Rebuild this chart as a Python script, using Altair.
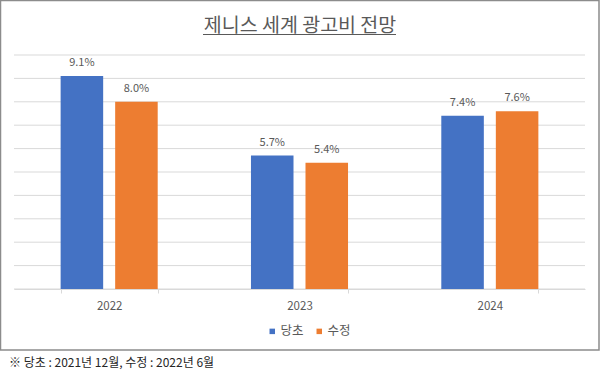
import altair as alt
import pandas as pd

years = ["2022", "2023", "2024"]
series = ["당초", "수정"]
original = [9.1, 5.7, 7.4]
revised = [8.0, 5.4, 7.6]
colors = ["#4472C4", "#ED7D31"]
y_ticks = list(range(0, 11))
title_text = "제니스 세계 광고비 전망"
footnote_text = "※ 당초 : 2021년 12월, 수정 : 2022년 6월"

FONT = "Noto Sans CJK KR"
GRAY = "#595959"

rows = []
for i, y in enumerate(years):
    rows.append({"year": y, "series": series[0], "value": original[i]})
    rows.append({"year": y, "series": series[1], "value": revised[i]})
df = pd.DataFrame(rows)

one = pd.DataFrame({"t": [title_text], "f": [footnote_text]})
grid_df = pd.DataFrame({"value": y_ticks})

yscale = alt.Scale(domain=[0, 10], nice=False)

xenc = alt.X(
    "year:N",
    title=None,
    sort=years,
    scale=alt.Scale(paddingInner=0.49, paddingOuter=0.245),
    axis=alt.Axis(
        labelAngle=0,
        tickBand="extent",
        domainColor="#D9D9D9",
        tickColor="#D9D9D9",
        tickSize=4,
        labelColor=GRAY,
        labelFont=FONT,
        labelFontSize=11.5,
        labelPadding=7,
        grid=False,
    ),
)
yenc = alt.Y("value:Q", title=None, scale=yscale, axis=None)
xoff = alt.XOffset(
    "series:N",
    sort=series,
    scale=alt.Scale(domain=series, paddingInner=0.22, paddingOuter=0),
)

grid = alt.Chart(grid_df).mark_rule(color="#D9D9D9", strokeWidth=1).encode(
    y=yenc, x=alt.value(0), x2=alt.value(571)
)

bars = alt.Chart(df).mark_bar().encode(
    x=xenc,
    y=yenc,
    xOffset=xoff,
    color=alt.Color(
        "series:N",
        scale=alt.Scale(domain=series, range=colors),
        legend=alt.Legend(
            title=None,
            orient="none",
            legendX=252,
            legendY=270,
            direction="horizontal",
            symbolType="square",
            symbolSize=30,
            symbolStrokeWidth=0,
            labelFont=FONT,
            labelFontSize=12.5,
            labelColor=GRAY,
            labelOffset=2,
            columnPadding=9,
            padding=0,
        ),
    ),
)

labels = alt.Chart(df).transform_calculate(
    lab="format(datum.value, '.1f') + '%'"
).mark_text(
    font=FONT, fontSize=11, color=GRAY, baseline="alphabetic", dy=-10
).encode(
    x=xenc,
    y=yenc,
    xOffset=xoff,
    text="lab:N",
)

border = alt.Chart(one).mark_rect(
    fill="white", fillOpacity=0, stroke="#8C8C8C", strokeWidth=1.5
).encode(
    x=alt.value(-13.5), x2=alt.value(585), y=alt.value(-54.5), y2=alt.value(295)
)

title = alt.Chart(one).mark_text(
    font=FONT, fontSize=19.5, color=GRAY, align="center", baseline="alphabetic"
).encode(x=alt.value(286), y=alt.value(-23), text="t:N")

underline = alt.Chart(one).mark_rule(color=GRAY, strokeWidth=1).encode(
    x=alt.value(189), x2=alt.value(382), y=alt.value(-20.5)
)

footnote = alt.Chart(one).mark_text(
    font=FONT, fontSize=12, color="#262626", align="left", baseline="alphabetic"
).encode(x=alt.value(-5), y=alt.value(312), text="f:N")

chart = alt.layer(border, grid, bars, labels, title, underline, footnote).properties(
    width=571,
    height=234,
    autosize=alt.AutoSizeParams(type="none"),
    padding={"left": 14, "top": 55, "right": 15, "bottom": 87},
    background="white",
).configure_view(stroke=None)

chart.save("out.html", embed_options={"renderer": "svg", "actions": False})
